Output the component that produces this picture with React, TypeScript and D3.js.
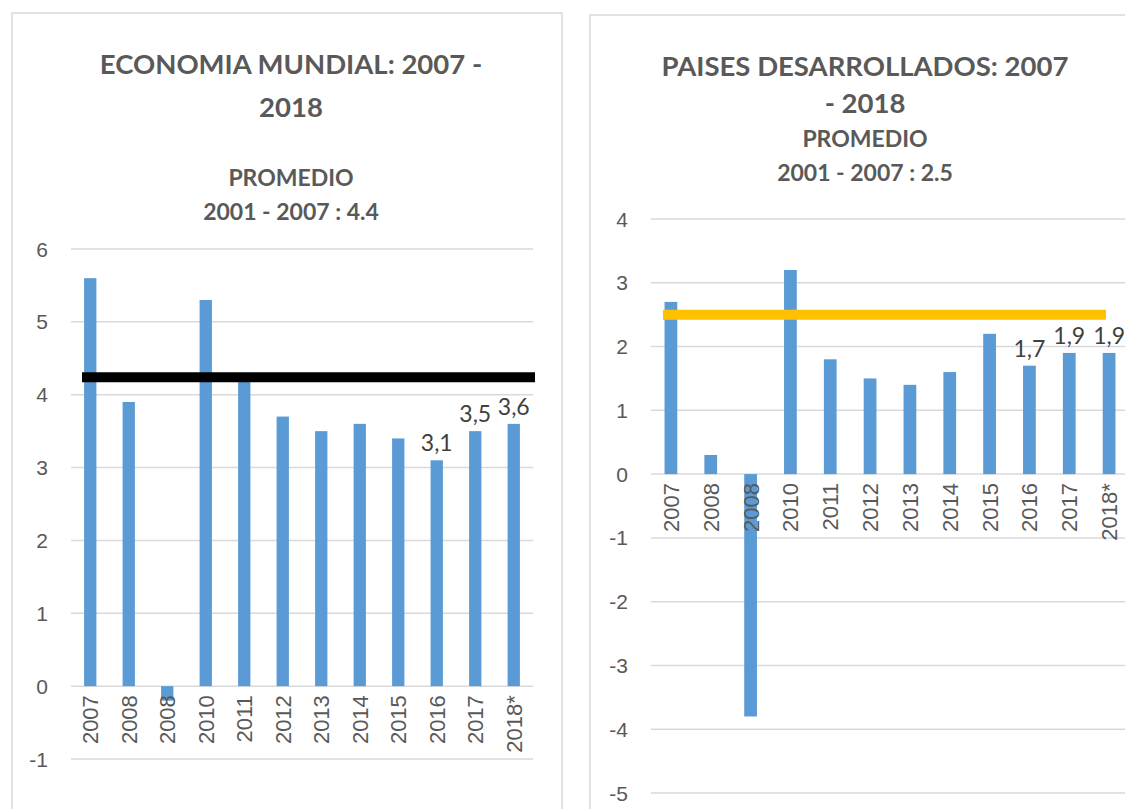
import React, { useEffect, useRef } from "react";
import * as d3 from "d3";

// categories (as printed on the chart, incl. the repeated 2008)
const years = ["2007", "2008", "2008", "2010", "2011", "2012", "2013", "2014", "2015", "2016", "2017", "2018*"];

// growth series (%)
const mundial = [5.6, 3.9, -0.2, 5.3, 4.2, 3.7, 3.5, 3.6, 3.4, 3.1, 3.5, 3.6];
const desarrollados = [2.7, 0.3, -3.8, 3.2, 1.8, 1.5, 1.4, 1.6, 2.2, 1.7, 1.9, 1.9];

// which bars carry a data label
const labeledMundial = ["2016", "2017", "2018*"];
const labeledDesarrollados = ["2016", "2017", "2018*"];

// average reference lines (where they are drawn)
const promedioMundial = 4.24;
const promedioDesarrollados = 2.5;

// y tick values
const ticksMundial = [-1, 0, 1, 2, 3, 4, 5, 6];
const ticksDesarrollados = [-5, -4, -3, -2, -1, 0, 1, 2, 3, 4];

const W = 1125;
const H = 809;
const BAR = "#5B9BD5";
const GRID = "#D9D9D9";
const TXT = "#595959";
const TITLE = "#595959";

type Panel = {
  box: [number, number, number, number];
  titles: { text: string; y: number; size: number }[];
  cx: number;
  values: number[];
  labeled: string[];
  ticks: number[];
  x0: number;
  x1: number;
  yTop: number;
  yBottom: number;
  avg: number;
  avgColor: string;
  avgFrom: number;
  avgTo: number;
};

const App = () => {
  const ref = useRef<SVGSVGElement>(null);

  useEffect(() => {
    const svg = d3.select(ref.current);
    svg.selectAll("*").remove();

    const panels: Panel[] = [
      {
        box: [12, 13, 562, 830],
        titles: [
          { text: "ECONOMIA MUNDIAL: 2007 -", y: 74, size: 27.5 },
          { text: "2018", y: 117, size: 27.5 },
          { text: "PROMEDIO", y: 186, size: 23 },
          { text: "2001 - 2007 : 4.4", y: 220, size: 23 },
        ],
        cx: 291,
        values: mundial,
        labeled: labeledMundial,
        ticks: ticksMundial,
        x0: 71,
        x1: 533,
        yTop: 249,
        yBottom: 759,
        avg: promedioMundial,
        avgColor: "#000000",
        avgFrom: 11,
        avgTo: 2,
      },
      {
        box: [590, 15, 1140, 830],
        titles: [
          { text: "PAISES DESARROLLADOS: 2007", y: 76, size: 27.5 },
          { text: "- 2018", y: 113, size: 27.5 },
          { text: "PROMEDIO", y: 147, size: 23 },
          { text: "2001 - 2007 : 2.5", y: 181, size: 23 },
        ],
        cx: 865,
        values: desarrollados,
        labeled: labeledDesarrollados,
        ticks: ticksDesarrollados,
        x0: 651,
        x1: 1129,
        yTop: 219,
        yBottom: 793,
        avg: promedioDesarrollados,
        avgColor: "#FFC000",
        avgFrom: 12,
        avgTo: -23,
      },
    ];

    panels.forEach((p) => {
      const g = svg.append("g");
      const [bx0, by0, bx1, by1] = p.box;
      g.append("rect")
        .attr("x", bx0)
        .attr("y", by0)
        .attr("width", bx1 - bx0)
        .attr("height", by1 - by0)
        .attr("fill", "white")
        .attr("stroke", GRID)
        .attr("stroke-width", 1.5);

      // titles
      p.titles.forEach((t) => {
        g.append("text")
          .attr("x", p.cx)
          .attr("y", t.y)
          .attr("text-anchor", "middle")
          .attr("font-family", "Lato, 'Open Sans', sans-serif")
          .attr("font-weight", "bold")
          .attr("font-size", t.size)
          .attr("fill", TITLE)
          .text(t.text);
      });

      const x = d3.scaleBand<number>().domain(d3.range(years.length)).range([p.x0, p.x1]).paddingInner(0);
      const yMin = d3.min(p.ticks) as number;
      const yMax = d3.max(p.ticks) as number;
      const y = d3.scaleLinear().domain([yMin, yMax]).range([p.yBottom, p.yTop]);

      // gridlines + y tick labels
      g.append("g")
        .selectAll("line")
        .data(p.ticks)
        .join("line")
        .attr("x1", p.x0)
        .attr("x2", p.x1)
        .attr("y1", (d) => y(d))
        .attr("y2", (d) => y(d))
        .attr("stroke", GRID)
        .attr("stroke-width", 1.5);

      g.append("g")
        .selectAll("text")
        .data(p.ticks)
        .join("text")
        .attr("x", p.x0 - 23)
        .attr("y", (d) => y(d))
        .attr("dy", "0.36em")
        .attr("text-anchor", "end")
        .attr("font-family", "'Liberation Sans', Arial, sans-serif")
        .attr("font-size", 21)
        .attr("fill", TXT)
        .text((d) => String(d));

      // bars
      const bw = x.bandwidth() * 0.32;
      g.append("g")
        .selectAll("rect")
        .data(p.values)
        .join("rect")
        .attr("x", (_, i) => (x(i) as number) + x.bandwidth() / 2 - bw / 2)
        .attr("width", bw)
        .attr("y", (d) => y(Math.max(0, d)))
        .attr("height", (d) => Math.abs(y(d) - y(0)))
        .attr("fill", BAR);

      // x labels, rotated
      g.append("g")
        .selectAll("text")
        .data(years)
        .join("text")
        .attr("transform", (_, i) => `translate(${(x(i) as number) + x.bandwidth() / 2}, ${y(0) + 9}) rotate(-90)`)
        .attr("dy", "0.36em")
        .attr("text-anchor", "end")
        .attr("font-family", "'Liberation Sans', Arial, sans-serif")
        .attr("font-size", 22)
        .attr("fill", TXT)
        .text((d) => d);

      // data labels
      g.append("g")
        .selectAll("text")
        .data(p.values.map((v, i) => ({ v, i })).filter((d) => p.labeled.includes(years[d.i])))
        .join("text")
        .attr("x", (d) => (x(d.i) as number) + x.bandwidth() / 2)
        .attr("y", (d) => y(d.v) - 9)
        .attr("text-anchor", "middle")
        .attr("font-family", "Lato, 'Open Sans', sans-serif")
        .attr("font-size", 23)
        .attr("fill", "#404040")
        .text((d) => d3.format(".1f")(d.v).replace(".", ","));

      // average line
      g.append("line")
        .attr("x1", p.x0 + p.avgFrom)
        .attr("x2", p.x1 + p.avgTo)
        .attr("y1", y(p.avg))
        .attr("y2", y(p.avg))
        .attr("stroke", p.avgColor)
        .attr("stroke-width", 10);
    });
  }, []);

  return (
    <svg
      ref={ref}
      width={W}
      height={H}
      style={{ position: "fixed", left: 0, top: 0, background: "white", display: "block" }}
    />
  );
};

export default App;
